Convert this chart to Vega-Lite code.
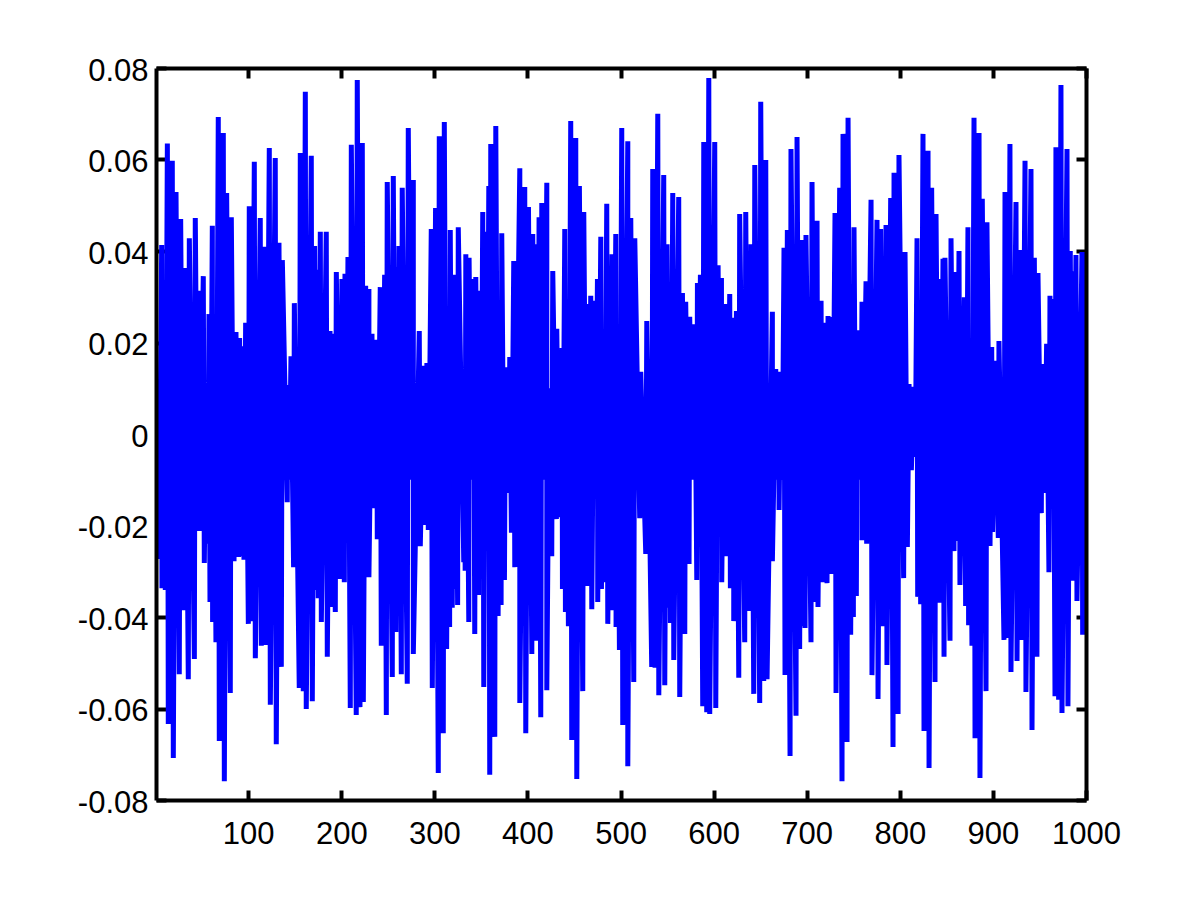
{"$schema":"https://vega.github.io/schema/vega-lite/v6.json","width":930,"height":732,"autosize":"none","padding":{"left":156,"top":68,"right":114,"bottom":100},"background":"white","config":{"view":{"stroke":null},"axis":{"grid":false,"title":null,"labelFont":"Liberation Sans","labelFontSize":31,"labelColor":"black","tickColor":"black","domainColor":"black","labelFlush":false,"labelOverlap":false}},"resolve":{"axis":{"x":"independent","y":"independent"}},"layer":[{"data":{"values":[{"x":1,"y":0.007},{"x":7.1,"y":0.0413},{"x":13.2,"y":0.0635},{"x":18.5,"y":0.0597},{"x":22.5,"y":0.0529},{"x":27.5,"y":0.047},{"x":32.1,"y":0.0363},{"x":36.8,"y":0.0428},{"x":43.2,"y":0.0472},{"x":47.5,"y":0.0313},{"x":51.8,"y":0.0345},{"x":57.9,"y":0.0262},{"x":61.5,"y":0.0455},{"x":67.9,"y":0.0693},{"x":73.3,"y":0.0658},{"x":76.9,"y":0.0527},{"x":81.9,"y":0.0474},{"x":86.9,"y":0.0223},{"x":90.8,"y":0.021},{"x":93.7,"y":0.0192},{"x":97.3,"y":0.0243},{"x":101.2,"y":0.0498},{"x":106.6,"y":0.0595},{"x":113,"y":0.0472},{"x":117.3,"y":0.0409},{"x":122.7,"y":0.0625},{"x":129.1,"y":0.0603},{"x":133.1,"y":0.0418},{"x":136.7,"y":0.038},{"x":142.4,"y":0.0107},{"x":146,"y":0.017},{"x":149.6,"y":0.0286},{"x":156,"y":0.0614},{"x":161.4,"y":0.0748},{"x":167.8,"y":0.0608},{"x":171.4,"y":0.0411},{"x":173.9,"y":0.0359},{"x":177.5,"y":0.0442},{"x":183.9,"y":0.0442},{"x":187.9,"y":0.0225},{"x":190.4,"y":0.0219},{"x":194.7,"y":0.0354},{"x":200.7,"y":0.0339},{"x":204,"y":0.035},{"x":207.2,"y":0.0387},{"x":210.8,"y":0.0632},{"x":217.2,"y":0.0774},{"x":222.6,"y":0.0636},{"x":226.2,"y":0.0324},{"x":229.7,"y":0.0317},{"x":233,"y":0.0219},{"x":238,"y":0.0206},{"x":241.9,"y":0.0321},{"x":246.6,"y":0.0348},{"x":249.4,"y":0.0551},{"x":255.9,"y":0.0564},{"x":260.2,"y":0.0365},{"x":262,"y":0.0411},{"x":265.5,"y":0.0538},{"x":272,"y":0.0669},{"x":277.4,"y":0.0555},{"x":283.8,"y":0.0225},{"x":288.8,"y":0.0149},{"x":292,"y":0.0155},{"x":296.7,"y":0.0448},{"x":301.3,"y":0.0494},{"x":305.3,"y":0.0651},{"x":310.7,"y":0.0682},{"x":317.1,"y":0.0446},{"x":321.4,"y":0.0348},{"x":325.7,"y":0.0452},{"x":333.8,"y":0.0393},{"x":337.3,"y":0.0385},{"x":342,"y":0.0339},{"x":344.5,"y":0.0343},{"x":348.4,"y":0.0313},{"x":352,"y":0.0485},{"x":355.2,"y":0.0442},{"x":358.5,"y":0.0542},{"x":360.6,"y":0.0634},{"x":366,"y":0.0673},{"x":372.4,"y":0.0439},{"x":376.4,"y":0.0146},{"x":381,"y":0.0168},{"x":385.3,"y":0.0378},{"x":391.8,"y":0.0581},{"x":397.1,"y":0.054},{"x":401.1,"y":0.0496},{"x":405.7,"y":0.0437},{"x":409.7,"y":0.0415},{"x":412.5,"y":0.0474},{"x":415.4,"y":0.0505},{"x":420.8,"y":0.0549},{"x":427.2,"y":0.0356},{"x":431.5,"y":0.023},{"x":437.2,"y":0.0188},{"x":440.1,"y":0.0448},{"x":446.5,"y":0.0684},{"x":451.9,"y":0.0647},{"x":455.8,"y":0.0542},{"x":460.5,"y":0.0485},{"x":464.4,"y":0.0284},{"x":468,"y":0.0302},{"x":471.6,"y":0.0291},{"x":475.2,"y":0.0339},{"x":478.8,"y":0.0431},{"x":485.2,"y":0.0503},{"x":490.9,"y":0.0393},{"x":494.9,"y":0.0437},{"x":501.3,"y":0.0669},{"x":507.8,"y":0.064},{"x":511,"y":0.0472},{"x":515.3,"y":0.0428},{"x":521.7,"y":0.0136},{"x":528.2,"y":0.0247},{"x":534.6,"y":0.0579},{"x":540,"y":0.07},{"x":546.4,"y":0.0566},{"x":550,"y":0.0415},{"x":556.1,"y":0.0527},{"x":562.5,"y":0.0518},{"x":566.5,"y":0.0308},{"x":570,"y":0.0289},{"x":574.3,"y":0.0256},{"x":579.7,"y":0.024},{"x":582.6,"y":0.033},{"x":585.8,"y":0.0348},{"x":589.4,"y":0.0638},{"x":594.8,"y":0.0778},{"x":601.2,"y":0.0638},{"x":604.8,"y":0.0369},{"x":608.4,"y":0.0341},{"x":612,"y":0.0284},{"x":617.3,"y":0.0306},{"x":621.6,"y":0.0254},{"x":624.5,"y":0.0269},{"x":628,"y":0.0481},{"x":634.5,"y":0.0485},{"x":638.4,"y":0.0359},{"x":640.2,"y":0.0415},{"x":644.2,"y":0.0588},{"x":650.6,"y":0.0726},{"x":656,"y":0.0599},{"x":663.1,"y":0.0267},{"x":666.7,"y":0.0142},{"x":669.9,"y":0.0122},{"x":672,"y":0.0136},{"x":675.6,"y":0.0407},{"x":679.2,"y":0.0446},{"x":683.1,"y":0.0623},{"x":689.6,"y":0.0649},{"x":695,"y":0.0424},{"x":699.2,"y":0.0435},{"x":705.7,"y":0.0551},{"x":711.1,"y":0.0466},{"x":715.4,"y":0.0291},{"x":719.3,"y":0.0243},{"x":722.9,"y":0.0258},{"x":726.8,"y":0.0256},{"x":730.4,"y":0.0483},{"x":735.4,"y":0.0538},{"x":739,"y":0.0656},{"x":744.4,"y":0.0691},{"x":750.8,"y":0.0452},{"x":754.4,"y":0.0227},{"x":756.2,"y":0.0199},{"x":759.4,"y":0.0289},{"x":763.7,"y":0.0334},{"x":769.1,"y":0.0512},{"x":775.5,"y":0.0468},{"x":779.4,"y":0.0448},{"x":781.6,"y":0.0389},{"x":785.2,"y":0.0457},{"x":790.2,"y":0.0516},{"x":793.8,"y":0.0571},{"x":799.1,"y":0.061},{"x":805.6,"y":0.0398},{"x":809.9,"y":0.0109},{"x":814.9,"y":0.0103},{"x":818.5,"y":0.0428},{"x":824.9,"y":0.0656},{"x":830.3,"y":0.0619},{"x":834.2,"y":0.0538},{"x":838.9,"y":0.0481},{"x":842.8,"y":0.0339},{"x":846.4,"y":0.0383},{"x":848.5,"y":0.0385},{"x":855,"y":0.0428},{"x":858.6,"y":0.0354},{"x":863.6,"y":0.04},{"x":869.3,"y":0.0299},{"x":873.2,"y":0.0452},{"x":879.7,"y":0.0691},{"x":885.1,"y":0.0658},{"x":888.6,"y":0.0514},{"x":893.6,"y":0.0463},{"x":898.7,"y":0.019},{"x":902.2,"y":0.016},{"x":906.5,"y":0.0203},{"x":913,"y":0.0529},{"x":918.3,"y":0.0634},{"x":924.8,"y":0.0507},{"x":928.7,"y":0.0402},{"x":930.2,"y":0.0389},{"x":934.5,"y":0.0597},{"x":940.9,"y":0.0579},{"x":944.5,"y":0.0385},{"x":948.4,"y":0.0352},{"x":952.7,"y":0.0153},{"x":957.7,"y":0.0197},{"x":961.3,"y":0.0302},{"x":964.9,"y":0.0295},{"x":967.7,"y":0.0627},{"x":973.1,"y":0.0763},{"x":979.6,"y":0.0623},{"x":983.1,"y":0.04},{"x":985.6,"y":0.0356},{"x":989.2,"y":0.0391},{"x":995.7,"y":0.0398},{"x":1000,"y":0.0398},{"x":4.2,"y":-0.0273},{"x":7.4,"y":-0.0337},{"x":11,"y":-0.0341},{"x":14.2,"y":-0.0634},{"x":19.6,"y":-0.0708},{"x":26,"y":-0.0525},{"x":30.3,"y":-0.0385},{"x":35.7,"y":-0.0536},{"x":42.2,"y":-0.0492},{"x":47.5,"y":-0.0212},{"x":52.9,"y":-0.0282},{"x":56.8,"y":-0.024},{"x":59,"y":-0.0367},{"x":61.8,"y":-0.0411},{"x":65.4,"y":-0.0455},{"x":69,"y":-0.0671},{"x":74.4,"y":-0.0759},{"x":80.8,"y":-0.0566},{"x":84.8,"y":-0.0278},{"x":90.1,"y":-0.0269},{"x":95.5,"y":-0.0275},{"x":100.2,"y":-0.0415},{"x":103.7,"y":-0.0409},{"x":107.7,"y":-0.049},{"x":114.1,"y":-0.0463},{"x":119.1,"y":-0.0461},{"x":123.8,"y":-0.0592},{"x":130.2,"y":-0.0678},{"x":135.6,"y":-0.0509},{"x":142,"y":-0.0149},{"x":148.8,"y":-0.0291},{"x":154.9,"y":-0.0555},{"x":159.2,"y":-0.0562},{"x":162.4,"y":-0.0601},{"x":168.9,"y":-0.0584},{"x":173.2,"y":-0.0341},{"x":175.3,"y":-0.0359},{"x":178.6,"y":-0.0411},{"x":185,"y":-0.0487},{"x":190.7,"y":-0.0378},{"x":193.6,"y":-0.0389},{"x":199,"y":-0.0317},{"x":203.3,"y":-0.0324},{"x":209.7,"y":-0.0599},{"x":216.1,"y":-0.0614},{"x":220.1,"y":-0.0597},{"x":223.7,"y":-0.0586},{"x":229.7,"y":-0.0313},{"x":234.4,"y":-0.0162},{"x":238.7,"y":-0.023},{"x":243,"y":-0.0463},{"x":248.4,"y":-0.0614},{"x":254.8,"y":-0.0531},{"x":258.7,"y":-0.0433},{"x":264.5,"y":-0.0525},{"x":270.9,"y":-0.0546},{"x":277.4,"y":-0.0481},{"x":284.9,"y":-0.0245},{"x":290.2,"y":-0.0199},{"x":293.5,"y":-0.021},{"x":297.8,"y":-0.0555},{"x":304.2,"y":-0.0741},{"x":309.6,"y":-0.0654},{"x":313.2,"y":-0.047},{"x":316.4,"y":-0.0422},{"x":319.2,"y":-0.038},{"x":321.4,"y":-0.0339},{"x":325,"y":-0.0374},{"x":331.6,"y":-0.028},{"x":333.1,"y":-0.0299},{"x":337,"y":-0.0411},{"x":343.4,"y":-0.0437},{"x":347.4,"y":-0.0352},{"x":353.1,"y":-0.0553},{"x":359.5,"y":-0.0745},{"x":364.9,"y":-0.0662},{"x":368.5,"y":-0.0398},{"x":371.7,"y":-0.0374},{"x":375.3,"y":-0.0319},{"x":380,"y":-0.0129},{"x":382.8,"y":-0.0216},{"x":386.4,"y":-0.0291},{"x":391.8,"y":-0.0588},{"x":398.2,"y":-0.0654},{"x":404.7,"y":-0.0481},{"x":408.9,"y":-0.0452},{"x":414.3,"y":-0.0619},{"x":420.8,"y":-0.056},{"x":426.1,"y":-0.0267},{"x":431.1,"y":-0.0186},{"x":434,"y":-0.0182},{"x":437.6,"y":-0.0339},{"x":440.8,"y":-0.0389},{"x":444,"y":-0.042},{"x":447.6,"y":-0.0669},{"x":453,"y":-0.0754},{"x":459.4,"y":-0.0562},{"x":463.7,"y":-0.0332},{"x":469.1,"y":-0.0383},{"x":475.5,"y":-0.0367},{"x":479.5,"y":-0.0339},{"x":482.7,"y":-0.0324},{"x":486.3,"y":-0.0415},{"x":491.6,"y":-0.0385},{"x":495.2,"y":-0.0422},{"x":498.8,"y":-0.0472},{"x":502.4,"y":-0.0636},{"x":507.8,"y":-0.0726},{"x":514.2,"y":-0.0542},{"x":520.6,"y":-0.0184},{"x":527.1,"y":-0.0262},{"x":533.5,"y":-0.0509},{"x":537.1,"y":-0.0511},{"x":541.1,"y":-0.0571},{"x":547.5,"y":-0.0549},{"x":551.8,"y":-0.038},{"x":553.6,"y":-0.0413},{"x":557.2,"y":-0.0494},{"x":563.6,"y":-0.0575},{"x":569,"y":-0.0437},{"x":573.6,"y":-0.0284},{"x":581.9,"y":-0.0319},{"x":588.3,"y":-0.0595},{"x":592.6,"y":-0.0608},{"x":595.8,"y":-0.0612},{"x":602.3,"y":-0.0599},{"x":608.7,"y":-0.0324},{"x":613.7,"y":-0.0267},{"x":618,"y":-0.0337},{"x":621.6,"y":-0.0409},{"x":627,"y":-0.0533},{"x":633.4,"y":-0.0455},{"x":637.4,"y":-0.0387},{"x":639.1,"y":-0.0361},{"x":643.1,"y":-0.0568},{"x":649.5,"y":-0.0588},{"x":653.8,"y":-0.054},{"x":657.4,"y":-0.0536},{"x":663.1,"y":-0.0278},{"x":670.3,"y":-0.0166},{"x":676.7,"y":-0.0527},{"x":682.1,"y":-0.0704},{"x":688.5,"y":-0.0616},{"x":692.4,"y":-0.047},{"x":694.6,"y":-0.042},{"x":698.2,"y":-0.0424},{"x":704.6,"y":-0.0455},{"x":708.2,"y":-0.0367},{"x":712.1,"y":-0.0378},{"x":716.8,"y":-0.0324},{"x":721.8,"y":-0.0326},{"x":727.2,"y":-0.0306},{"x":731.5,"y":-0.0566},{"x":737.9,"y":-0.0759},{"x":743.3,"y":-0.0673},{"x":747.2,"y":-0.0439},{"x":750.1,"y":-0.04},{"x":753.3,"y":-0.0354},{"x":759.4,"y":-0.0232},{"x":764.4,"y":-0.024},{"x":770.1,"y":-0.0527},{"x":776.6,"y":-0.0579},{"x":781.6,"y":-0.042},{"x":786.2,"y":-0.0505},{"x":792.7,"y":-0.0684},{"x":798.1,"y":-0.0612},{"x":804.1,"y":-0.0315},{"x":808.1,"y":-0.0247},{"x":812.4,"y":-0.0079},{"x":819.2,"y":-0.0356},{"x":822.4,"y":-0.0372},{"x":826,"y":-0.0649},{"x":831.4,"y":-0.073},{"x":837.8,"y":-0.0542},{"x":842.1,"y":-0.0369},{"x":847.5,"y":-0.0487},{"x":853.9,"y":-0.0452},{"x":858.2,"y":-0.0256},{"x":861.1,"y":-0.0234},{"x":864.6,"y":-0.033},{"x":870.7,"y":-0.0376},{"x":873.9,"y":-0.0418},{"x":877.5,"y":-0.0463},{"x":880.8,"y":-0.0665},{"x":886.1,"y":-0.0752},{"x":892.6,"y":-0.0562},{"x":896.9,"y":-0.0245},{"x":899.7,"y":-0.0214},{"x":905.8,"y":-0.0227},{"x":911.9,"y":-0.045},{"x":915.8,"y":-0.0446},{"x":919.4,"y":-0.052},{"x":925.9,"y":-0.0496},{"x":930.9,"y":-0.045},{"x":935.5,"y":-0.0564},{"x":942,"y":-0.0647},{"x":947.3,"y":-0.0487},{"x":952,"y":-0.0173},{"x":955.6,"y":-0.0129},{"x":960.2,"y":-0.0302},{"x":966.7,"y":-0.0573},{"x":970.6,"y":-0.0581},{"x":974.2,"y":-0.061},{"x":980.6,"y":-0.0595},{"x":985.3,"y":-0.0321},{"x":990.3,"y":-0.0365},{"x":996.4,"y":-0.0439},{"x":9.2,"y":0.01},{"x":45.4,"y":-0.01},{"x":54.9,"y":0.01},{"x":63.6,"y":0.01},{"x":92.2,"y":-0.01},{"x":144.2,"y":-0.01},{"x":189.1,"y":-0.01},{"x":192.1,"y":0.01},{"x":205.6,"y":-0.01},{"x":228,"y":-0.01},{"x":261.1,"y":-0.01},{"x":274.7,"y":-0.01},{"x":314.8,"y":0.01},{"x":323.2,"y":0.01},{"x":332.3,"y":0.01},{"x":339.6,"y":-0.01},{"x":350.2,"y":-0.01},{"x":356.8,"y":-0.01},{"x":370.1,"y":0.01},{"x":411.1,"y":-0.01},{"x":418.1,"y":-0.01},{"x":423.4,"y":0.01},{"x":442.4,"y":0.01},{"x":466.2,"y":-0.01},{"x":473.4,"y":-0.01},{"x":481.1,"y":0.01},{"x":497,"y":0.01},{"x":552.7,"y":0.01},{"x":577,"y":-0.01},{"x":584.2,"y":-0.01},{"x":606.6,"y":-0.01},{"x":668.3,"y":-0.01},{"x":673.8,"y":-0.01},{"x":693.5,"y":0.01},{"x":724.8,"y":-0.01},{"x":748.6,"y":0.01},{"x":755.3,"y":-0.01},{"x":757.8,"y":-0.01},{"x":780.5,"y":-0.01},{"x":816.7,"y":-0.005},{"x":820.8,"y":0.01},{"x":844.6,"y":-0.01},{"x":875.7,"y":0.01},{"x":929.5,"y":-0.01},{"x":963.1,"y":-0.01},{"x":987.4,"y":-0.01}]},"mark":{"type":"line","color":"#0000ff","strokeWidth":5,"strokeJoin":"bevel","strokeCap":"butt","clip":true},"encoding":{"x":{"field":"x","type":"quantitative","scale":{"domain":[1,1000],"nice":false,"zero":false},"axis":{"orient":"bottom","values":[100,200,300,400,500,600,700,800,900,1000],"format":"d","domain":false,"tickSize":-10,"tickWidth":4,"labelPadding":29,"labelBaseline":"top","zindex":0}},"y":{"field":"y","type":"quantitative","scale":{"domain":[-0.08,0.08],"nice":false,"zero":false},"axis":{"orient":"left","values":[-0.08,-0.06,-0.04,-0.02,0,0.02,0.04,0.06,0.08],"labelExpr":"datum.value==0?'0':replace(format(datum.value,'.2f'),'−','-')","domain":false,"tickSize":-10,"tickWidth":4,"labelPadding":18,"labelOffset":3,"zindex":0}}}},{"data":{"values":[{"x":1,"y":0}]},"mark":{"type":"line","opacity":0},"encoding":{"x":{"field":"x","type":"quantitative","axis":{"orient":"top","values":[100,200,300,400,500,600,700,800,900,1000],"domain":false,"labels":false,"tickSize":-10,"tickWidth":4,"zindex":0}},"y":{"field":"y","type":"quantitative","axis":{"orient":"right","values":[-0.08,-0.06,-0.04,-0.02,0,0.02,0.04,0.06,0.08],"domain":false,"labels":false,"tickSize":-10,"tickWidth":4,"zindex":0}}}},{"data":{"values":[{"x":1,"y":0}]},"mark":{"type":"line","opacity":0},"encoding":{"x":{"field":"x","type":"quantitative","axis":{"orient":"bottom","domainWidth":4,"ticks":false,"labels":false,"zindex":1}},"y":{"field":"y","type":"quantitative","axis":{"orient":"left","domainWidth":4,"ticks":false,"labels":false,"zindex":1}}}},{"data":{"values":[{"x":1,"y":0}]},"mark":{"type":"line","opacity":0},"encoding":{"x":{"field":"x","type":"quantitative","axis":{"orient":"top","domainWidth":4,"ticks":false,"labels":false,"zindex":1}},"y":{"field":"y","type":"quantitative","axis":{"orient":"right","domainWidth":4,"ticks":false,"labels":false,"zindex":1}}}}]}
